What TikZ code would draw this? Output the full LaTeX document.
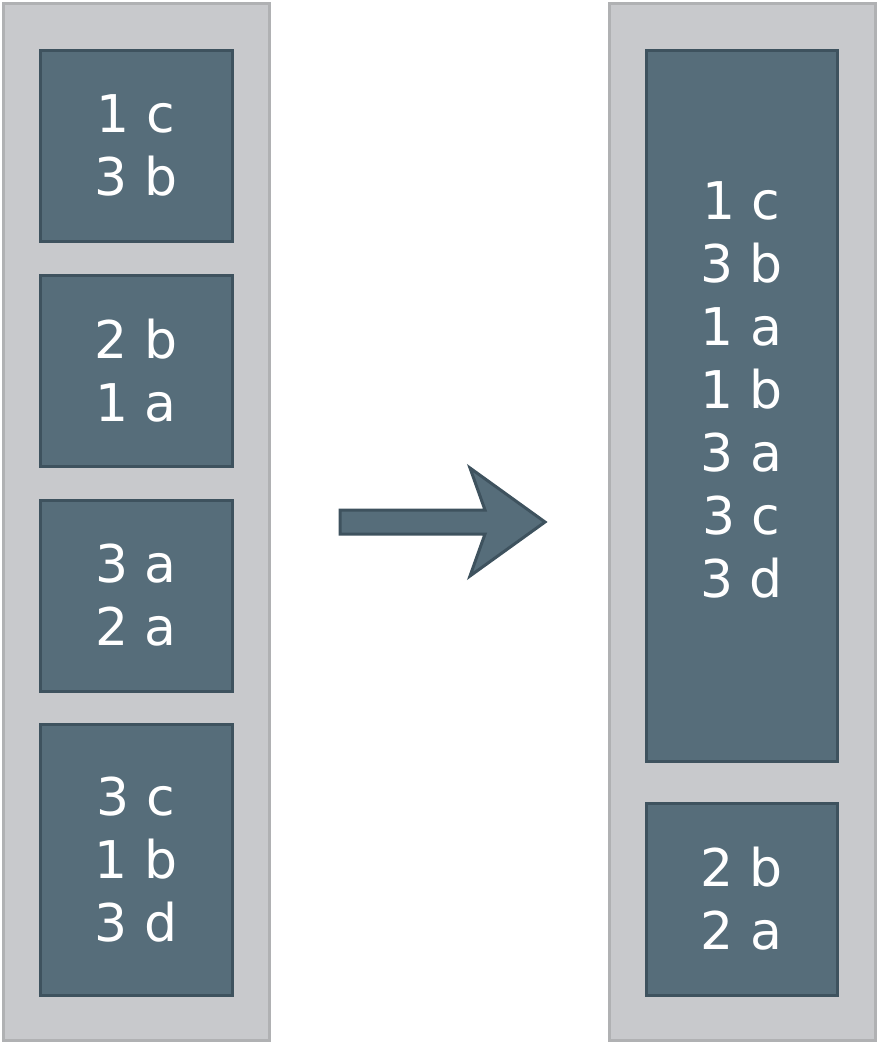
\documentclass[tikz,border=0pt]{standalone}
\usepackage{fontspec}
\setmainfont{DejaVu Sans}
\definecolor{outerF}{HTML}{C8C9CC}\definecolor{outerD}{HTML}{B0B1B3}
\definecolor{boxF}{HTML}{566D7A}\definecolor{boxD}{HTML}{3E525E}
\begin{document}
\begin{tikzpicture}[x=1pt,y=-1pt,
 outer/.style={fill=outerF,draw=outerD,line width=3pt},
 cell/.style={fill=boxF,draw=boxD,line width=3pt},
 lbl/.style={text=white,align=center,font=\fontsize{52}{63}\selectfont}]
\useasboundingbox (0,0) rectangle (878,1044);
\draw[outer] (3,3) rectangle (269,1040);
\draw[outer] (609,3) rectangle (875,1040);
\draw[cell] (40,50) rectangle (232,241) node[midway,lbl] (a) {1 c\\3 b};
\draw[cell] (40,275) rectangle (232,466) node[midway,lbl] (b) {2 b\\1 a};
\draw[cell] (40,500) rectangle (232,691) node[midway,lbl] (c) {3 a\\2 a};
\draw[cell] (40,724) rectangle (232,995) node[midway,lbl] (d) {3 c\\1 b\\3 d};
\draw[cell] (646,50) rectangle (837,761);
\node[lbl] (e) at (741.5,390) {1 c\\3 b\\1 a\\1 b\\3 a\\3 c\\3 d};
\draw[cell] (646,803) rectangle (837,995) node[midway,lbl] (f) {2 b\\2 a};
\draw[cell,line join=miter] (340,510) -- (485,510) -- (470,468) -- (545,522) -- (470,576) -- (485,534) -- (340,534) -- cycle;
\end{tikzpicture}
\end{document}
